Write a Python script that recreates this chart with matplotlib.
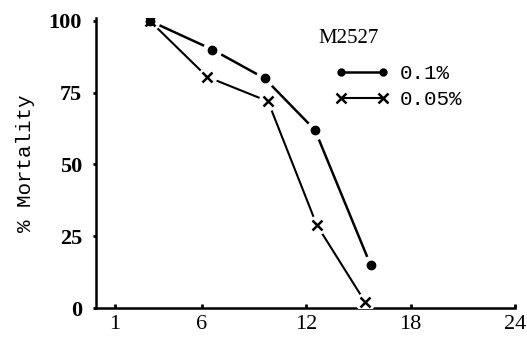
import matplotlib
matplotlib.use("Agg")
import matplotlib.pyplot as plt

# hours after treatment
hours_high = [3, 6.6, 9.6, 12.5, 15.7]
mortality_high = [100, 90, 80, 62, 15]

hours_low = [3, 6.3, 9.8, 12.6, 15.4]
mortality_low = [100, 80.5, 72, 29, 2]

x_ticks = [1, 6, 12, 18, 24]
y_ticks = [0, 25, 50, 75, 100]

fig = plt.figure(figsize=(5.27, 3.39), dpi=100)
ax = fig.add_axes([0.182, 0.091, 0.795, 0.856])

serif = "Liberation Serif"
mono = "Liberation Mono"

# white discs behind markers give the gapped look of the scan
for xs, ys in [(hours_high, mortality_high), (hours_low, mortality_low)]:
    ax.plot(xs, ys, linestyle="none", marker="o", markersize=14,
            markerfacecolor="white", markeredgecolor="none", zorder=3)

ax.plot(hours_high, mortality_high, color="black", linewidth=1.8, zorder=2,
        marker="o", markersize=5, markerfacecolor="black",
        markeredgecolor="black", label="0.1%")
ax.plot(hours_low, mortality_low, color="black", linewidth=1.5, zorder=2,
        marker="x", markersize=7, markeredgewidth=1.8,
        markeredgecolor="black", label="0.05%")
# redraw markers on top of the white discs
ax.plot(hours_high, mortality_high, linestyle="none", marker="o", markersize=6,
        color="black", zorder=4)
ax.plot(hours_low, mortality_low, linestyle="none", marker="x", markersize=7,
        markeredgewidth=1.8, color="black", zorder=4)

ax.set_xlim(-0.1, 24)
ax.set_ylim(0, 101)
ax.set_xticks(x_ticks)
ax.set_xticklabels([str(t) for t in x_ticks], fontfamily=serif, fontsize=16)
ax.set_yticks(y_ticks)
ax.set_yticklabels([str(t) for t in y_ticks], fontfamily=serif, fontsize=16,
                   fontweight="bold")

ax.spines["top"].set_visible(False)
ax.spines["right"].set_visible(False)
ax.spines["left"].set_linewidth(1.8)
ax.spines["bottom"].set_linewidth(1.8)
ax.tick_params(axis="x", direction="in", length=3, width=2, pad=5)
ax.tick_params(axis="y", direction="out", length=2, width=2, pad=8)

ax.set_ylabel("% Mortality", fontfamily=mono, fontsize=15, labelpad=10)

ax.text(0.53, 0.93, "M2527", transform=ax.transAxes, fontfamily=serif,
        fontsize=15, ha="left", va="center")

leg = ax.legend(loc="upper left", bbox_to_anchor=(0.55, 0.87), frameon=False,
                numpoints=2, handlelength=2.6, handletextpad=0.5,
                labelspacing=0.35, borderaxespad=0,
                prop={"family": mono, "size": 15})

fig.savefig("out.png", dpi=100)
